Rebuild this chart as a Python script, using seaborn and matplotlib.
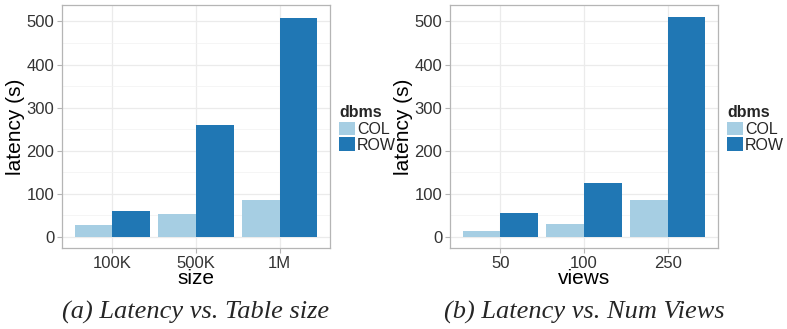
import matplotlib
matplotlib.use("Agg")
import matplotlib.pyplot as plt
from matplotlib.patches import Patch
from matplotlib.ticker import MultipleLocator
import seaborn as sns
import pandas as pd

# ---- data ----
dbms_levels = ["COL", "ROW"]
size_cats = ["100K", "500K", "1M"]
size_col = [27, 54, 86]
size_row = [61, 259, 509]
views_cats = ["50", "100", "250"]
views_col = [14, 29, 86]
views_row = [55, 125, 510]
captions = ["(a) Latency vs. Table size", "(b) Latency vs. Num Views"]
palette = {"COL": "#a6cee3", "ROW": "#2077b4"}

sns.set_theme(style="white")
plt.rcParams["font.family"] = ["Liberation Sans", "DejaVu Sans"]

fig = plt.figure(figsize=(7.87, 3.29), dpi=100)
ax_specs = [
    (62 / 787, 81 / 329, 268 / 787, 243 / 329),
    (450 / 787, 81 / 329, 268 / 787, 243 / 329),
]

panels = [
    ("size", size_cats, size_col, size_row),
    ("views", views_cats, views_col, views_row),
]

for i, (xname, cats, col, row) in enumerate(panels):
    ax = fig.add_axes(ax_specs[i])
    df = pd.DataFrame({
        xname: cats + cats,
        "latency": col + row,
        "dbms": ["COL"] * len(cats) + ["ROW"] * len(cats),
    })
    sns.barplot(data=df, x=xname, y="latency", hue="dbms", order=cats,
                hue_order=dbms_levels, palette=palette, width=0.9, gap=0,
                errorbar=None, saturation=1, ax=ax, linewidth=0,
                legend=False, zorder=3)
    ax.set_xlim(-0.6, len(cats) - 0.4)
    ax.set_ylim(-25.5, 538)
    ax.yaxis.set_major_locator(MultipleLocator(100))
    ax.yaxis.set_minor_locator(MultipleLocator(50))
    ax.set_axisbelow(True)
    ax.grid(True, which="major", axis="both", color="#ebebeb", linewidth=0.9, zorder=0)
    ax.grid(True, which="minor", axis="y", color="#f2f2f2", linewidth=0.5, zorder=0)
    for sp in ax.spines.values():
        sp.set_visible(True)
        sp.set_color("#b5b5b5")
        sp.set_linewidth(0.9)
    ax.tick_params(axis="both", which="major", length=3.5, width=0.8,
                   color="#b5b5b5", labelsize=12, labelcolor="#333333",
                   pad=2, bottom=True, left=True)
    ax.tick_params(axis="y", which="minor", length=0)
    ax.set_xlabel(xname, fontsize=15, color="black", labelpad=-1)
    ax.set_ylabel("latency (s)", fontsize=15, color="black", labelpad=1)

    handles = [Patch(facecolor=palette[k], edgecolor="none") for k in dbms_levels]
    leg = ax.legend(handles, dbms_levels, title="dbms", loc="center left",
                    bbox_to_anchor=(1.035, 0.49), frameon=False,
                    fontsize=11.5, handlelength=1.0, handleheight=0.95,
                    handletextpad=0.1, labelspacing=0.02, borderpad=0,
                    borderaxespad=0, alignment="left",
                    title_fontproperties={"weight": "bold", "size": 11.5})
    leg._legend_box.sep = 1

    cx = ax_specs[i][0] + ax_specs[i][2] / 2
    fig.text(cx, 17 / 329, captions[i], ha="center", va="center",
             fontsize=19, style="italic", family=["Liberation Serif", "DejaVu Serif"])

fig.savefig("out.png", dpi=100, facecolor="white")
